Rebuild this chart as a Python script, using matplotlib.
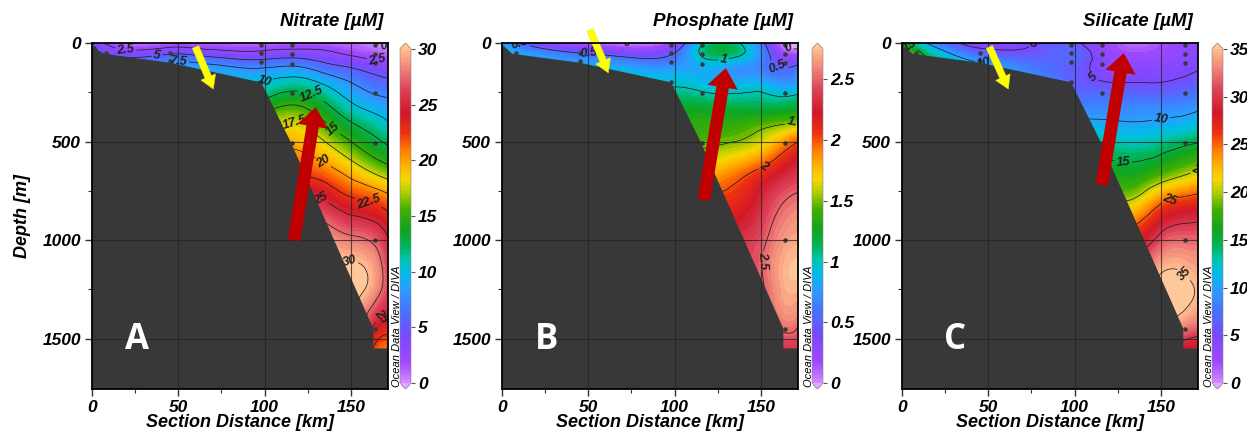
import numpy as np
import matplotlib
matplotlib.use("Agg")
import matplotlib.pyplot as plt
import matplotlib.tri as mtri
from matplotlib.colors import LinearSegmentedColormap, Normalize
from matplotlib.patches import Polygon
from matplotlib.ticker import FormatStrFormatter
import matplotlib.cm as cm

plt.rcParams['font.family'] = ['Liberation Sans', 'DejaVu Sans']
plt.rcParams['font.weight'] = 'bold'
plt.rcParams['font.style'] = 'italic'
plt.rcParams['axes.labelweight'] = 'bold'

# gridded section values (rows = depth, columns = distance)
dist_km = [0, 20, 45, 70, 98, 116, 135, 150, 164, 172]
depth_m = [0, 50, 100, 200, 300, 400, 500, 650, 800, 1000, 1200, 1400, 1550]

nitrate = [
    [4.0, 0.5, 1.0, 1.0, 1.0, 1.0, 1.0, 0.8, 0.0, -0.5],
    [6.0, 3.5, 4.5, 3.5, 3.0, 3.5, 3.0, 2.0, 1.2, 0.8],
    [7.0, 6.5, 7.5, 7.0, 6.0, 6.5, 5.0, 4.0, 3.0, 2.5],
    [8.5, 8.5, 9.0, 9.5, 10.0, 11.0, 9.5, 7.5, 6.0, 5.5],
    [12.0, 12.0, 12.0, 12.5, 13.0, 14.5, 12.5, 10.0, 8.5, 8.0],
    [16.0, 16.0, 16.0, 16.5, 17.0, 17.5, 15.0, 12.5, 11.0, 10.0],
    [19.0, 19.0, 19.0, 19.0, 19.5, 19.5, 17.5, 15.0, 13.0, 12.0],
    [22.0, 22.0, 22.0, 22.0, 22.0, 22.0, 21.0, 19.0, 17.0, 16.0],
    [25.0, 25.0, 25.0, 25.0, 25.0, 25.5, 25.0, 23.0, 22.0, 21.0],
    [29.0, 29.0, 29.0, 29.0, 29.0, 29.0, 29.0, 28.0, 27.0, 25.0],
    [31.0, 31.0, 31.0, 31.0, 31.0, 31.0, 31.0, 31.0, 29.0, 26.0],
    [30.0, 30.0, 30.0, 30.0, 30.0, 30.0, 30.0, 30.0, 25.5, 24.0],
    [28.0, 28.0, 28.0, 28.0, 28.0, 28.0, 28.0, 27.0, 22.0, 21.0],
]

phosphate = [
    [0.8, 0.3, 0.1, 0.0, 0.15, 0.95, 1.05, 0.6, -0.05, -0.1],
    [0.9, 0.7, 0.5, 0.35, 0.45, 1.05, 1.1, 0.7, 0.15, 0.1],
    [0.95, 0.85, 0.8, 0.7, 0.65, 0.9, 0.85, 0.65, 0.4, 0.45],
    [1.0, 1.0, 0.95, 0.95, 0.95, 0.9, 0.85, 0.85, 0.72, 0.8],
    [1.1, 1.1, 1.1, 1.1, 1.15, 1.15, 1.1, 1.1, 1.1, 1.15],
    [1.3, 1.3, 1.3, 1.3, 1.3, 1.35, 1.35, 1.4, 1.45, 1.5],
    [1.45, 1.45, 1.45, 1.45, 1.45, 1.45, 1.5, 1.62, 1.85, 2.0],
    [1.75, 1.75, 1.75, 1.75, 1.75, 1.75, 1.88, 2.05, 2.25, 2.35],
    [2.0, 2.0, 2.0, 2.0, 2.0, 2.05, 2.1, 2.3, 2.5, 2.55],
    [2.3, 2.3, 2.3, 2.3, 2.3, 2.3, 2.35, 2.45, 2.65, 2.7],
    [2.45, 2.45, 2.45, 2.45, 2.45, 2.45, 2.45, 2.48, 2.72, 2.75],
    [2.4, 2.4, 2.4, 2.4, 2.4, 2.4, 2.4, 2.4, 2.6, 2.55],
    [2.35, 2.35, 2.35, 2.35, 2.35, 2.35, 2.35, 2.35, 2.35, 2.35],
]

silicate = [
    [16.0, 8.0, 4.0, 4.5, 5.5, 3.0, 1.0, 2.0, 3.0, 3.5],
    [20.0, 12.0, 6.5, 5.5, 7.0, 3.5, 2.0, 2.5, 3.5, 4.0],
    [20.0, 14.0, 10.0, 7.5, 6.5, 4.0, 3.5, 3.5, 4.0, 4.5],
    [20.0, 15.0, 12.0, 9.0, 6.5, 5.2, 5.0, 5.0, 5.6, 6.2],
    [20.0, 16.0, 13.0, 10.0, 8.0, 8.0, 8.0, 8.0, 8.3, 8.8],
    [20.0, 16.0, 14.0, 12.0, 10.5, 10.3, 10.0, 10.3, 10.8, 11.5],
    [20.0, 17.0, 15.0, 14.0, 13.0, 13.0, 12.5, 13.2, 14.2, 14.8],
    [20.0, 19.0, 18.0, 17.0, 16.5, 16.5, 16.0, 17.5, 19.2, 20.1],
    [22.0, 22.0, 21.0, 21.0, 21.0, 21.0, 20.5, 24.3, 26.0, 26.5],
    [28.0, 28.0, 28.0, 28.0, 28.0, 28.0, 27.5, 31.0, 32.0, 32.0],
    [33.0, 33.0, 33.0, 33.0, 33.0, 33.0, 33.0, 35.5, 35.3, 34.5],
    [33.0, 33.0, 33.0, 33.0, 33.0, 33.0, 33.0, 35.0, 34.0, 33.0],
    [30.0, 30.0, 30.0, 30.0, 30.0, 30.0, 30.0, 30.0, 28.0, 27.5],
]

# seafloor outline
floor_km = [-2, 0, 6, 45, 98, 115, 163, 163, 175, 175, -2]
floor_m = [8, 8, 55, 100, 200, 500, 1450, 1550, 1550, 1800, 1800]

# sampling stations
stn_km = [8, 45, 45, 98, 98, 98, 98, 116, 116, 116, 116, 116,
          164, 164, 164, 164, 164, 164, 164]
stn_m = [50, 50, 92, 8, 50, 97, 200, 8, 55, 105, 255, 505,
         8, 55, 100, 255, 505, 1000, 1450]

titles = ['Nitrate [µM]', 'Phosphate [µM]', 'Silicate [µM]']
letters = ['A', 'B', 'C']
vmaxes = [30, 2.75, 35]
line_steps = [2.5, 0.5, 5]
cbar_ticks = [[0, 5, 10, 15, 20, 25, 30],
              [0, 0.5, 1, 1.5, 2, 2.5],
              [0, 5, 10, 15, 20, 25, 30, 35]]

label_pos = [
    [(3, 12), (20, 5), (38, 76), (50, 98), (100, 200), (128, 250), (117, 416),
     (141, 425), (134, 604), (133, 787), (160, 812), (149, 1112), (165, 1370),
     (165, 100), (169, 15)],
    [(3, 12), (72, 15), (50, 75), (94, 198), (128, 70), (166, 20), (159, 147),
     (170, 400), (150, 609), (148, 1101)],
    [(5, 10), (76, 3), (48, 90), (111, 175), (150, 381), (128, 623), (171, 620),
     (156, 812), (169, 1137)],
]

yellow_arrows = [((60, 20), (70.3, 234)), ((51, -66), (61.6, 152)), ((50.6, 20), (61.6, 234))]
red_arrows = [((117, 1000), (129.7, 325)), ((116.9, 797), (129.7, 127)), ((115.7, 721), (128.5, 51))]

odv = LinearSegmentedColormap.from_list('odv', [
    (0.00, '#d08cff'), (0.06, '#a048ff'), (0.14, '#7a48ff'), (0.21, '#4a70ff'),
    (0.28, '#2a9cff'), (0.33, '#00bce8'), (0.37, '#00c4b0'), (0.41, '#00b458'),
    (0.46, '#10a420'), (0.52, '#40b000'), (0.57, '#b0cc00'), (0.61, '#f4d800'),
    (0.65, '#ffb400'), (0.70, '#ff7a00'), (0.75, '#ee3010'), (0.81, '#d01828'),
    (0.88, '#dc4058'), (0.94, '#f08078'), (1.00, '#ffbb8c')])
odv.set_under('#e0a8ff')
odv.set_over('#ffc898')

W, H = 1247, 433
axes_left = [92, 502, 902]
cbar_left = [400, 812, 1212]
letter_x = [0.153, 0.151, 0.179]

fig = plt.figure(figsize=(W / 100, H / 100), dpi=100)

X, Y = np.meshgrid(dist_km, depth_m)
nr, nc = X.shape
idx = np.arange(nr * nc).reshape(nr, nc)
a = idx[:-1, :-1].ravel()
b = idx[:-1, 1:].ravel()
c = idx[1:, 1:].ravel()
d = idx[1:, :-1].ravel()
cells = np.concatenate([np.stack([a, b, c], 1), np.stack([a, c, d], 1)])
xs, ys = max(dist_km), max(depth_m)
tri_n = mtri.Triangulation(X.ravel() / xs, Y.ravel() / ys, cells)
refiner = mtri.UniformTriRefiner(tri_n)

for i, table in enumerate([nitrate, phosphate, silicate]):
    ax = fig.add_axes([axes_left[i] / W, 1 - 389 / H, 296 / W, 346 / H])
    vmax = vmaxes[i]
    norm = Normalize(0, vmax)

    tri_f, z_f = refiner.refine_field(np.array(table, dtype=float).ravel(), subdiv=4)
    tri_p = mtri.Triangulation(tri_f.x * xs, tri_f.y * ys, tri_f.triangles)
    ax.tricontourf(tri_p, z_f, levels=np.linspace(0, vmax, 71), cmap=odv, norm=norm,
                   extend='both', zorder=0.5)
    lv = np.arange(0, vmax + 0.01, line_steps[i])
    cs = ax.tricontour(tri_p, z_f, levels=lv, colors='#202020', linewidths=0.55, zorder=1)
    ax.clabel(cs, manual=label_pos[i], inline=True, fmt='%g', fontsize=9, inline_spacing=2)

    ax.scatter(stn_km, stn_m, s=5, color='#3a3a3a', zorder=2)
    ax.add_patch(Polygon(np.column_stack([floor_km, floor_m]), closed=True,
                         facecolor='#383838', edgecolor='none', zorder=3.5))

    for xv in [50, 100, 150]:
        ax.axvline(xv, color='#222222', lw=0.8, alpha=0.75, zorder=4)
    for yv in [500, 1000, 1500]:
        ax.axhline(yv, color='#222222', lw=0.8, alpha=0.75, zorder=4)

    (tx, ty), (hx, hy) = yellow_arrows[i]
    ax.annotate('', xy=(hx, hy), xytext=(tx, ty), annotation_clip=False,
                arrowprops=dict(arrowstyle='simple,head_length=0.95,head_width=1.15,tail_width=0.5',
                                mutation_scale=10, fc='#ffff00', ec='#e8e830', lw=0.3,
                                shrinkA=0, shrinkB=0, clip_on=False), zorder=6)
    (tx, ty), (hx, hy) = red_arrows[i]
    ax.annotate('', xy=(hx, hy), xytext=(tx, ty), annotation_clip=False,
                arrowprops=dict(arrowstyle='simple,head_length=1.4,head_width=2.2,tail_width=0.9',
                                mutation_scale=10, fc='#c00000', ec='none',
                                shrinkA=0, shrinkB=0, clip_on=False), zorder=6)

    ax.text(letter_x[i], 0.142, letters[i], transform=ax.transAxes, ha='center', va='center',
            fontsize=25, color='white', family='Open Sans', fontweight='bold',
            fontstyle='normal', zorder=7)

    ax.set_xlim(0, 171.5)
    ax.set_ylim(1756, 0)
    ax.set_xticks([0, 50, 100, 150])
    ax.set_xticks([25, 75, 125], minor=True)
    ax.set_yticks([0, 500, 1000, 1500])
    ax.set_yticks([250, 750, 1250], minor=True)
    ax.tick_params(which='major', length=5, width=1, labelsize=12.5, pad=3, color='#333333')
    ax.tick_params(which='minor', length=3, width=0.8, color='#333333')
    for sp in ax.spines.values():
        sp.set_linewidth(1.3)
        sp.set_zorder(8)
    ax.set_xlabel('Section Distance [km]', fontsize=13, labelpad=-1)
    if i == 0:
        ax.set_ylabel('Depth [m]', fontsize=13, labelpad=8)
    ax.text(0.983, 1.062, titles[i], transform=ax.transAxes, ha='right', va='center',
            fontsize=13.5)

    cax = fig.add_axes([cbar_left[i] / W, 1 - 389 / H, 11 / W, 346 / H])
    sm = cm.ScalarMappable(norm=norm, cmap=odv)
    cb = fig.colorbar(sm, cax=cax, extend='both', extendfrac=0.018, ticks=cbar_ticks[i])
    cb.formatter = FormatStrFormatter('%g')
    cb.update_ticks()
    cb.outline.set_linewidth(0.4)
    cb.outline.set_edgecolor('#888888')
    cax.tick_params(length=3, width=0.8, labelsize=12.5, pad=2, color='#555555')
    fig.text((cbar_left[i] - 3) / W, 1 - 387 / H, 'Ocean Data View / DIVA', rotation=90,
             ha='center', va='bottom', fontsize=8, fontweight='normal', fontstyle='italic')

fig.savefig('out.png', dpi=100)
